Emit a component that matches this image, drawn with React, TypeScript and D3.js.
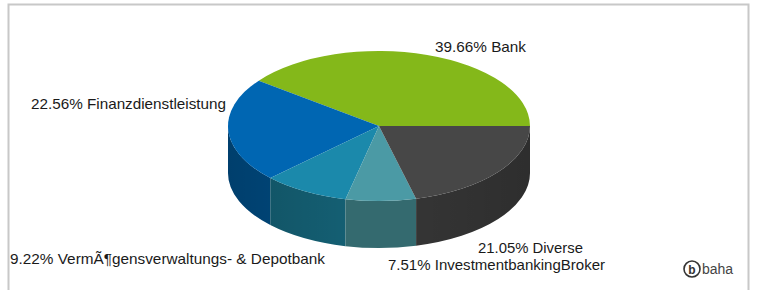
import React from "react";
import * as d3 from "d3";

const categories = ["Bank", "Finanzdienstleistung", "VermÃ¶gensverwaltungs- & Depotbank", "InvestmentbankingBroker", "Diverse"];
const values = [39.66, 22.56, 9.22, 7.51, 21.05];
const topColors = ["#84b81a", "#0066b2", "#1b89ab", "#4b9aa5", "#474747"];
const sideColors = ["#5e8512", "#004a80", "#145f73", "#346a6f", "#343434"];

const W = 757, H = 290;
const cx = 379, cy = 126, rx = 151, ry = 75, depth = 47;

function pt(theta: number, dy = 0): [number, number] {
  return [cx + rx * Math.cos(theta), cy - ry * Math.sin(theta) + dy];
}

export default function App() {
  const pie = d3.pie<number>().sort(null).startAngle(0).endAngle(-2 * Math.PI);
  const arcs = pie(values);
  const slices = arcs.map((a, i) => ({ i, t0: -a.startAngle, t1: -a.endAngle, v: a.data }));
  const fmt = (n: number) => n.toFixed(2);

  const topPath = (t0: number, t1: number) => {
    const [x0, y0] = pt(t0);
    const [x1, y1] = pt(t1);
    const large = t1 - t0 > Math.PI ? 1 : 0;
    return `M${cx},${cy}L${x0},${y0}A${rx},${ry} 0 ${large} 0 ${x1},${y1}Z`;
  };
  const sidePath = (t0: number, t1: number) => {
    const a = Math.max(t0, Math.PI), b = Math.min(t1, 2 * Math.PI);
    if (b <= a) return null;
    const [x0, y0] = pt(a);
    const [x1, y1] = pt(b);
    const [x2, y2] = pt(b, depth);
    const [x3, y3] = pt(a, depth);
    return `M${x0},${y0}A${rx},${ry} 0 0 0 ${x1},${y1}L${x2},${y2}A${rx},${ry} 0 0 1 ${x3},${y3}Z`;
  };
  const fullSide = sidePath(Math.PI, 2 * Math.PI)!;

  const font = "'Liberation Sans', Arial, sans-serif";
  const labels = [
    { i: 0, x: 435, y: 52, len: 91 },
    { i: 1, x: 31, y: 109, len: 195 },
    { i: 2, x: 10, y: 264, len: 315 },
    { i: 3, x: 388, y: 270, len: 217 },
    { i: 4, x: 478, y: 253, len: 105 },
  ];

  return (
    <svg width={W} height={H} style={{ position: "absolute", left: 0, top: 0, background: "#fff" }}>
      <defs>
        <linearGradient id="sideShade" x1={cx - rx} x2={cx + rx} y1="0" y2="0" gradientUnits="userSpaceOnUse">
          <stop offset="0" stopColor="#000" stopOpacity="0.15" />
          <stop offset="0.4" stopColor="#000" stopOpacity="0" />
          <stop offset="0.65" stopColor="#000" stopOpacity="0" />
          <stop offset="1" stopColor="#000" stopOpacity="0.12" />
        </linearGradient>
      </defs>
      <rect x={0} y={0} width={W} height={H} fill="#fff" />
      <path d={`M8.5,${H}V4.5H748.5V${H}`} fill="none" stroke="#c8c8c8" strokeWidth={2} />
      <g>
        {slices.map((s) => {
          const d = sidePath(s.t0, s.t1);
          return d ? <path key={"s" + s.i} d={d} fill={sideColors[s.i]} /> : null;
        })}
        <path d={fullSide} fill="url(#sideShade)" />
        {slices.map((s) => (
          <path key={"t" + s.i} d={topPath(s.t0, s.t1)} fill={topColors[s.i]} />
        ))}
      </g>
      <g fontFamily={font} fontSize={15} fill="#1a1a1a">
        {labels.map((l) => (
          <text key={l.i} x={l.x} y={l.y} textLength={l.len} lengthAdjust="spacingAndGlyphs">
            {`${fmt(values[l.i])}% ${categories[l.i]}`}
          </text>
        ))}
      </g>
      <g fontFamily={font}>
        <circle cx={692} cy={269} r={8} fill="none" stroke="#333" strokeWidth={1.6} />
        <text x={692} y={273.5} textAnchor="middle" fontSize={12} fontWeight="bold" fill="#333">b</text>
        <text x={702} y={274} fontSize={14} fill="#444">baha</text>
      </g>
    </svg>
  );
}
